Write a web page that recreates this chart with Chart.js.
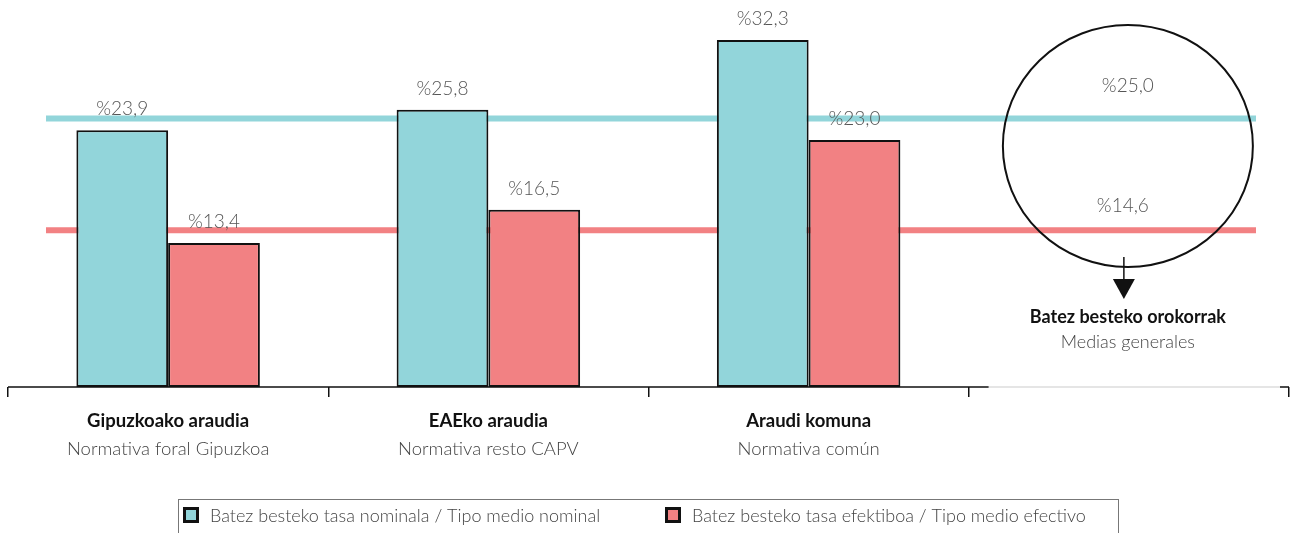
<!DOCTYPE html>
<html>
<head>
<meta charset="utf-8">
<script src="https://cdn.jsdelivr.net/npm/chart.js@4.4.0/dist/chart.umd.min.js"></script>
<style>
  html, body { margin: 0; padding: 0; background: #fff; }
  #wrap { width: 1290px; height: 533px; }
</style>
</head>
<body>
<div id="wrap"><canvas id="myChart" width="1290" height="533"></canvas></div>
<script>
// data
var catBold = ["Gipuzkoako araudia", "EAEko araudia", "Araudi komuna", ""];
var catLight = ["Normativa foral Gipuzkoa", "Normativa resto CAPV", "Normativa común", ""];
var seriesNames = ["Batez besteko tasa nominala / Tipo medio nominal", "Batez besteko tasa efektiboa / Tipo medio efectivo"];
var nominal = [23.9, 25.8, 32.3, null];
var effective = [13.4, 16.5, 23.0, null];
var avgNominal = 25.0;
var avgEffective = 14.6;
var avgTitle = "Batez besteko orokorrak";
var avgSubtitle = "Medias generales";

var cyan = "#92d5da";
var red = "#f28183";
var FONT = "Lato, 'Open Sans', sans-serif";

function fmt(v) {
  return "%" + v.toFixed(1).replace(".", ",");
}

var decorations = {
  id: "decorations",
  beforeDatasetsDraw: function(chart) {
    var ctx = chart.ctx, a = chart.chartArea, y = chart.scales.y;
    ctx.save();
    ctx.lineWidth = 6;
    ctx.strokeStyle = cyan;
    ctx.beginPath();
    ctx.moveTo(a.left + 38, y.getPixelForValue(avgNominal));
    ctx.lineTo(a.right - 33, y.getPixelForValue(avgNominal));
    ctx.stroke();
    ctx.strokeStyle = red;
    ctx.beginPath();
    ctx.moveTo(a.left + 38, y.getPixelForValue(avgEffective));
    ctx.lineTo(a.right - 33, y.getPixelForValue(avgEffective));
    ctx.stroke();
    ctx.restore();
  },
  afterDraw: function(chart) {
    var ctx = chart.ctx, a = chart.chartArea, x = chart.scales.x, y = chart.scales.y;
    var i;
    ctx.save();

    // axis line: black over the real categories, light grey under the averages
    var split = (x.getPixelForValue(2) + x.getPixelForValue(3)) / 2 + 20;
    ctx.lineWidth = 1.5;
    ctx.strokeStyle = "#111";
    ctx.beginPath();
    ctx.moveTo(a.left, a.bottom);
    ctx.lineTo(split, a.bottom);
    ctx.moveTo(a.right - 9, a.bottom);
    ctx.lineTo(a.right, a.bottom);
    ctx.stroke();
    ctx.strokeStyle = "#dddddd";
    ctx.beginPath();
    ctx.moveTo(split, a.bottom);
    ctx.lineTo(a.right - 9, a.bottom);
    ctx.stroke();

    // value labels
    ctx.font = "300 19px " + FONT;
    ctx.fillStyle = "#555";
    ctx.textAlign = "center";
    ctx.textBaseline = "middle";
    chart.data.datasets.forEach(function(ds, di) {
      chart.getDatasetMeta(di).data.forEach(function(bar, j) {
        if (ds.data[j] == null) return;
        ctx.fillText(fmt(ds.data[j]), bar.x, bar.y - 21);
      });
    });

    // category labels
    for (i = 0; i < catBold.length; i++) {
      var cx = x.getPixelForValue(i);
      ctx.font = "bold 18.5px " + FONT;
      ctx.fillStyle = "#111";
      ctx.fillText(catBold[i], cx, a.bottom + 34);
      ctx.font = "300 18.5px " + FONT;
      ctx.fillStyle = "#444";
      ctx.fillText(catLight[i], cx, a.bottom + 62);
    }

    // averages block
    var mx = x.getPixelForValue(3);
    ctx.font = "300 19px " + FONT;
    ctx.fillStyle = "#555";
    ctx.fillText(fmt(avgNominal), mx - 1, y.getPixelForValue(avgNominal) - 33);
    ctx.fillText(fmt(avgEffective), mx - 6, y.getPixelForValue(avgEffective) - 24);

    ctx.strokeStyle = "#111";
    ctx.lineWidth = 2;
    ctx.beginPath();
    ctx.ellipse(mx - 1, 146, 125, 121, 0, 0, Math.PI * 2);
    ctx.stroke();

    var ax = mx - 5;
    ctx.lineWidth = 1.5;
    ctx.beginPath();
    ctx.moveTo(ax, 257);
    ctx.lineTo(ax, 284);
    ctx.stroke();
    ctx.fillStyle = "#111";
    ctx.beginPath();
    ctx.moveTo(ax - 11, 279);
    ctx.lineTo(ax + 11, 279);
    ctx.lineTo(ax, 299);
    ctx.closePath();
    ctx.fill();

    ctx.font = "bold 18px " + FONT;
    ctx.fillText(avgTitle, mx - 1, 317);
    ctx.font = "300 18px " + FONT;
    ctx.fillStyle = "#444";
    ctx.fillText(avgSubtitle, mx - 1, 342);

    // legend
    ctx.strokeStyle = "#777";
    ctx.lineWidth = 1;
    ctx.strokeRect(178.5, 499.5, 940, 50);
    var items = [{ x: 183, c: cyan }, { x: 665, c: red }];
    items.forEach(function(it, k) {
      ctx.fillStyle = "#111";
      ctx.fillRect(it.x, 507, 16, 16);
      ctx.fillStyle = it.c;
      ctx.fillRect(it.x + 3, 510, 10, 10);
      ctx.font = "300 18px " + FONT;
      ctx.fillStyle = "#444";
      ctx.textAlign = "left";
      ctx.fillText(seriesNames[k], it.x + 27, 516);
    });

    ctx.restore();
  }
};

new Chart("myChart", {
  type: "bar",
  data: {
    labels: catBold,
    datasets: [{
      label: seriesNames[0],
      data: nominal,
      backgroundColor: cyan,
      borderColor: "#111",
      borderWidth: 2,
      borderSkipped: false,
      categoryPercentage: 0.573,
      barPercentage: 1
    }, {
      label: seriesNames[1],
      data: effective,
      backgroundColor: red,
      borderColor: "#111",
      borderWidth: 2,
      borderSkipped: false,
      categoryPercentage: 0.573,
      barPercentage: 1
    }]
  },
  options: {
    responsive: false,
    animation: false,
    layout: { padding: { left: 8, right: 1, top: 11, bottom: 136 } },
    plugins: {
      legend: { display: false },
      tooltip: { enabled: false }
    },
    scales: {
      x: {
        offset: true,
        border: { display: false },
        grid: {
          offset: true,
          drawOnChartArea: false,
          drawTicks: true,
          tickLength: 10,
          color: "#111",
          lineWidth: 1.5
        },
        ticks: { display: false }
      },
      y: {
        display: false,
        min: 0,
        max: 35
      }
    }
  },
  plugins: [decorations]
});
</script>
</body>
</html>
